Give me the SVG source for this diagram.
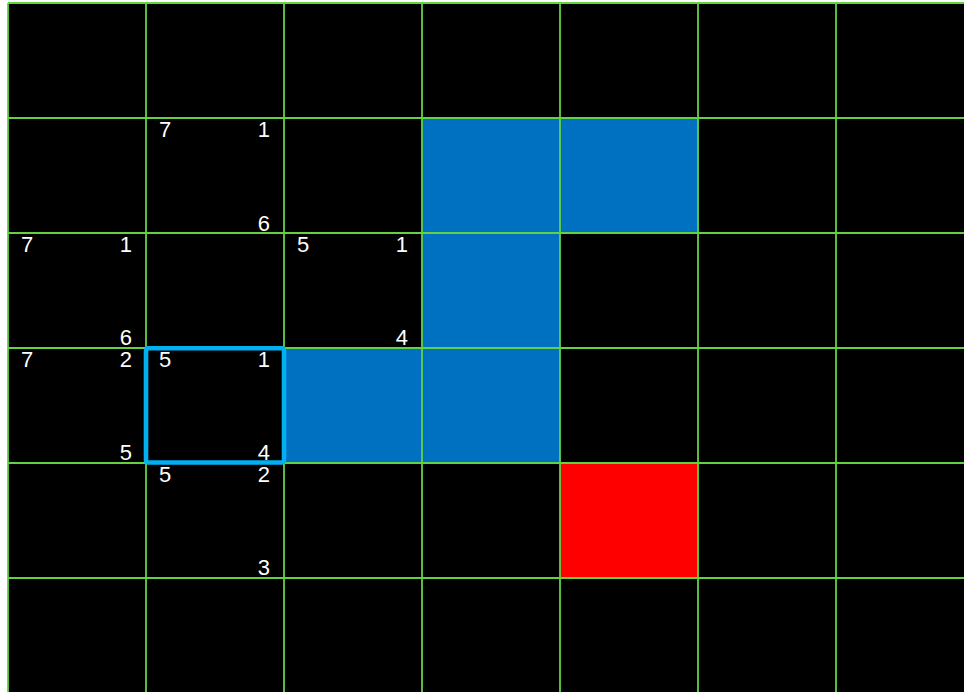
<svg xmlns="http://www.w3.org/2000/svg" width="964" height="692" viewBox="0 0 964 692">
<style>
.g{stroke:#62D243;stroke-width:1.8;fill:none}
.t{font-family:"Liberation Sans",Arial,sans-serif;font-size:22px;fill:#ffffff}
.e{text-anchor:end}
</style>
<rect x="0" y="0" width="964" height="692" fill="#ffffff"/>
<rect x="8" y="3" width="956" height="689" fill="#000000"/>
<g id="fills">
<rect x="422" y="118" width="138" height="115" fill="#0070C0"/>
<rect x="560" y="118" width="138" height="115" fill="#0070C0"/>
<rect x="422" y="233" width="138" height="115" fill="#0070C0"/>
<rect x="284" y="348" width="138" height="115" fill="#0070C0"/>
<rect x="422" y="348" width="138" height="115" fill="#0070C0"/>
<rect x="560" y="463" width="138" height="115" fill="#FF0000"/>
</g>
<g id="grid" class="g">
<line x1="8" y1="3" x2="8" y2="692"/>
<line x1="146" y1="3" x2="146" y2="692"/>
<line x1="284" y1="3" x2="284" y2="692"/>
<line x1="422" y1="3" x2="422" y2="692"/>
<line x1="560" y1="3" x2="560" y2="692"/>
<line x1="698" y1="3" x2="698" y2="692"/>
<line x1="836" y1="3" x2="836" y2="692"/>
<line x1="8" y1="3" x2="964" y2="3"/>
<line x1="8" y1="118" x2="964" y2="118"/>
<line x1="8" y1="233" x2="964" y2="233"/>
<line x1="8" y1="348" x2="964" y2="348"/>
<line x1="8" y1="463" x2="964" y2="463"/>
<line x1="8" y1="578" x2="964" y2="578"/>
</g>
<g id="current">
<rect x="146" y="348.3" width="138" height="114.2" rx="2" fill="none" stroke="#00B0F0" stroke-width="4.6"/>
</g>
<g id="cell-1-1">
<text class="t" x="159" y="137">7</text>
<text class="t e" x="270" y="137">1</text>
<text class="t e" x="270" y="231">6</text>
</g>
<g id="cell-0-2">
<text class="t" x="21" y="252">7</text>
<text class="t e" x="132" y="252">1</text>
<text class="t e" x="132" y="345">6</text>
</g>
<g id="cell-2-2">
<text class="t" x="297" y="252">5</text>
<text class="t e" x="408" y="252">1</text>
<text class="t e" x="408" y="345">4</text>
</g>
<g id="cell-0-3">
<text class="t" x="21" y="367">7</text>
<text class="t e" x="132" y="367">2</text>
<text class="t e" x="132" y="460">5</text>
</g>
<g id="cell-1-3">
<text class="t" x="159" y="367">5</text>
<text class="t e" x="270" y="367">1</text>
<text class="t e" x="270" y="460">4</text>
</g>
<g id="cell-1-4">
<text class="t" x="159" y="482">5</text>
<text class="t e" x="270" y="482">2</text>
<text class="t e" x="270" y="575">3</text>
</g>
</svg>
